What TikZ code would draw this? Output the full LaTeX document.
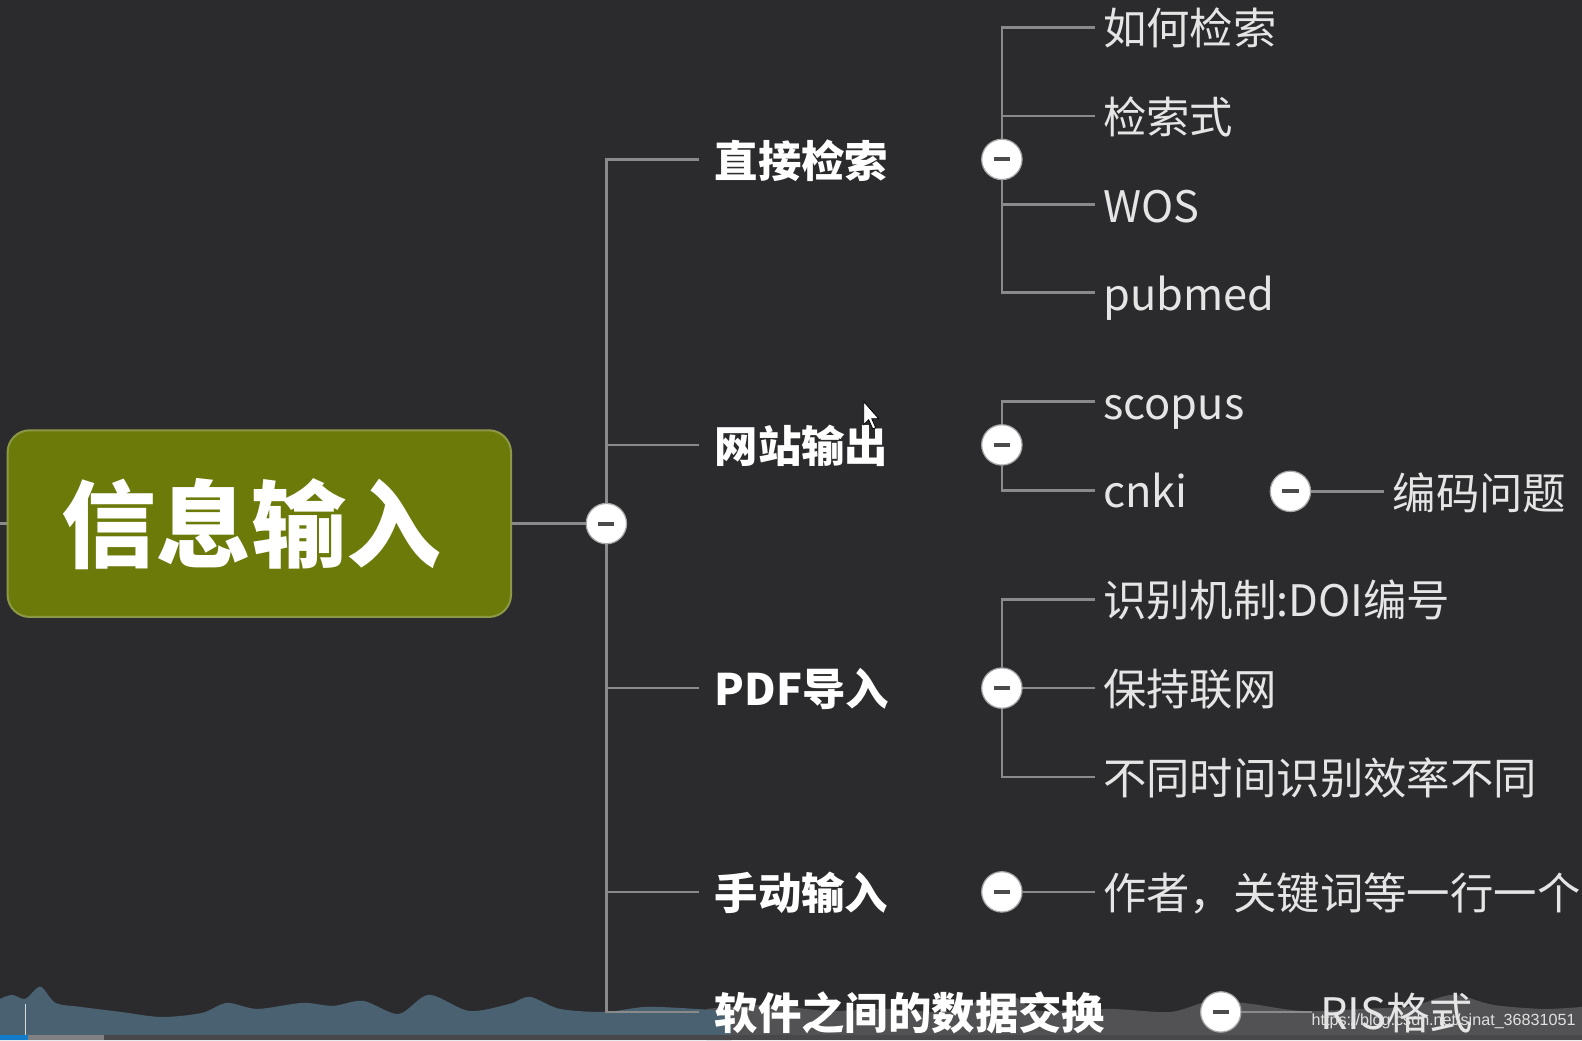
\documentclass[tikz,border=0pt]{standalone}
\usepackage{fontspec}
\setmainfont{Noto Sans CJK SC}
\newfontfamily\markfont{Liberation Sans}
\usetikzlibrary{backgrounds}

\definecolor{bgdark}{RGB}{43,43,45}
\definecolor{olivefill}{RGB}{108,122,10}
\definecolor{oliveedge}{RGB}{140,152,70}
\definecolor{linegray}{RGB}{138,138,138}
\definecolor{wavblue}{RGB}{74,97,113}
\definecolor{wavgray}{RGB}{90,90,92}

\tikzset{
  edge/.style={draw=linegray, line width=1.3pt},
  rootbox/.style={rectangle, rounded corners=11pt, fill=olivefill, draw=oliveedge, line width=1pt,
    minimum width=249.5pt, minimum height=92.5pt, text=white,
    font=\bfseries\fontsize{47}{47}\selectfont},
  topic/.style={anchor=west, text=white, font=\bfseries\fontsize{21.5}{21.5}\selectfont,
    inner xsep=7.5pt, inner ysep=0pt, text height=18pt, text depth=0.5pt},
  leaf/.style={anchor=west, text=white!90!black, font=\fontsize{21.5}{21.5}\selectfont,
    inner xsep=4pt, inner ysep=0pt, text height=18pt, text depth=0.5pt},
  fold/.style={circle, fill=white, draw=gray!70, line width=0.6pt, minimum size=20pt, inner sep=0pt,
    path picture={\draw[bgdark!85, line width=2pt]
      ([xshift=-4pt]path picture bounding box.center) -- ([xshift=4pt]path picture bounding box.center);}},
}

\begin{document}
\begin{tikzpicture}[x=0.5pt, y=-0.5pt]
  \useasboundingbox (0,0) rectangle (1568,1031);
  % --- root and hub ---
  \node[rootbox] (root) at (257,519) {\hspace*{-8pt}信息输入};
  \coordinate (stub) at (0,519);
  \node[fold] (hub) at (601,519) {};
  % --- first level topics ---
  \node[topic] (t1) at (693,158) {直接检索};
  \node[topic] (t2) at (693,441) {网站输出};
  \node[topic] (t3) at (693,682) {PDF导入};
  \node[topic] (t4) at (693,884) {手动输入};
  \node[topic] (t5) at (693,1003) {软件之间的数据交换};
  % --- fold buttons ---
  \node[fold] (f1) at (993,158) {};
  \node[fold] (f2) at (993,441) {};
  \node[fold] (f3) at (993,682) {};
  \node[fold] (f4) at (993,884) {};
  \node[fold] (f5) at (1210,1003) {};
  \node[fold] (f6) at (1279,487) {};
  % --- leaves ---
  \node[leaf] (k1) at (1085,27) {如何检索};
  \node[leaf] (k2) at (1085,115) {检索式};
  \node[leaf] (k3) at (1085,203) {WOS};
  \node[leaf] (k4) at (1085,290) {pubmed};
  \node[leaf] (w1) at (1085,398) {scopus};
  \node[leaf] (w2) at (1085,486) {cnki};
  \node[leaf] (w3) at (1372,487) {编码问题};
  \node[leaf] (p1) at (1085,594) {识别机制:DOI编号};
  \node[leaf] (p2) at (1085,682) {保持联网};
  \node[leaf] (p3) at (1085,770) {不同时间识别效率不同};
  \node[leaf] (m1) at (1085,884) {作者，关键词等一行一个};
  \node[leaf] (r1) at (1300,1003) {RIS格式};
  % --- mouse pointer ---
  \fill[white, draw=black, line width=0.4pt] (856,398) -- (856,421) -- (861,416) -- (865,425)
    -- (868,424) -- (864,415) -- (871,415) -- cycle;
  % --- watermark ---
  \node[anchor=east, inner sep=0pt, text=white!88!black, font=\markfont\fontsize{8}{8}\selectfont]
    (mark) at (1562,1012) {https://blog.csdn.net/sinat\_36831051};

  \begin{scope}[on background layer]
    \fill[bgdark] (0,0) rectangle (1568,1031);
    % --- video overlay at the bottom ---
    \fill[wavgray, opacity=0.85] plot[smooth] coordinates {(700,1000) (760,996) (820,1002) (880,1000)
      (940,1003) (975,990) (1005,988) (1030,1002) (1100,1000) (1160,1003) (1200,992) (1240,995)
      (1290,1002) (1350,1000) (1400,997) (1440,986) (1480,996) (1530,1000) (1568,998)}
      -- (1568,1031) -- (700,1031) -- cycle;
    \fill[wavblue] plot[smooth] coordinates {(0,990) (12,986) (25,990) (40,978) (55,994) (80,998)
      (120,1003) (160,1008) (200,1004) (225,994) (255,1000) (300,994) (330,997) (360,992)
      (395,1005) (425,986) (465,1002) (505,995) (525,988) (555,1000) (600,1003) (640,998)
      (690,1000) (725,1003)} -- (725,1031) -- (0,1031) -- cycle;
    \fill[wavgray!80!black] (0,1026) rectangle (1568,1031);
    \fill[gray] (28,1026) rectangle (103,1031);
    \fill[cyan!60!blue] (0,1026) rectangle (28,1031);
    \draw[white!70!gray, line width=0.5pt] (25,995) -- (25,1026);
    % --- connectors ---
    \draw[edge] (stub) -- (root.west);
    \draw[edge] (root.east) -- (hub);
    \foreach \t in {t1,t2,t3,t4,t5}
      \draw[edge] (hub) |- (\t.west);
    \foreach \k in {k1,k2,k3,k4}
      \draw[edge] (f1) |- (\k.west);
    \foreach \k in {w1,w2}
      \draw[edge] (f2) |- (\k.west);
    \foreach \k in {p1,p2,p3}
      \draw[edge] (f3) |- (\k.west);
    \draw[edge] (f4) -- (m1.west);
    \draw[edge] (f5) -- (r1.west);
    \draw[edge] (f6) -- (w3.west);
  \end{scope}
\end{tikzpicture}
\end{document}
